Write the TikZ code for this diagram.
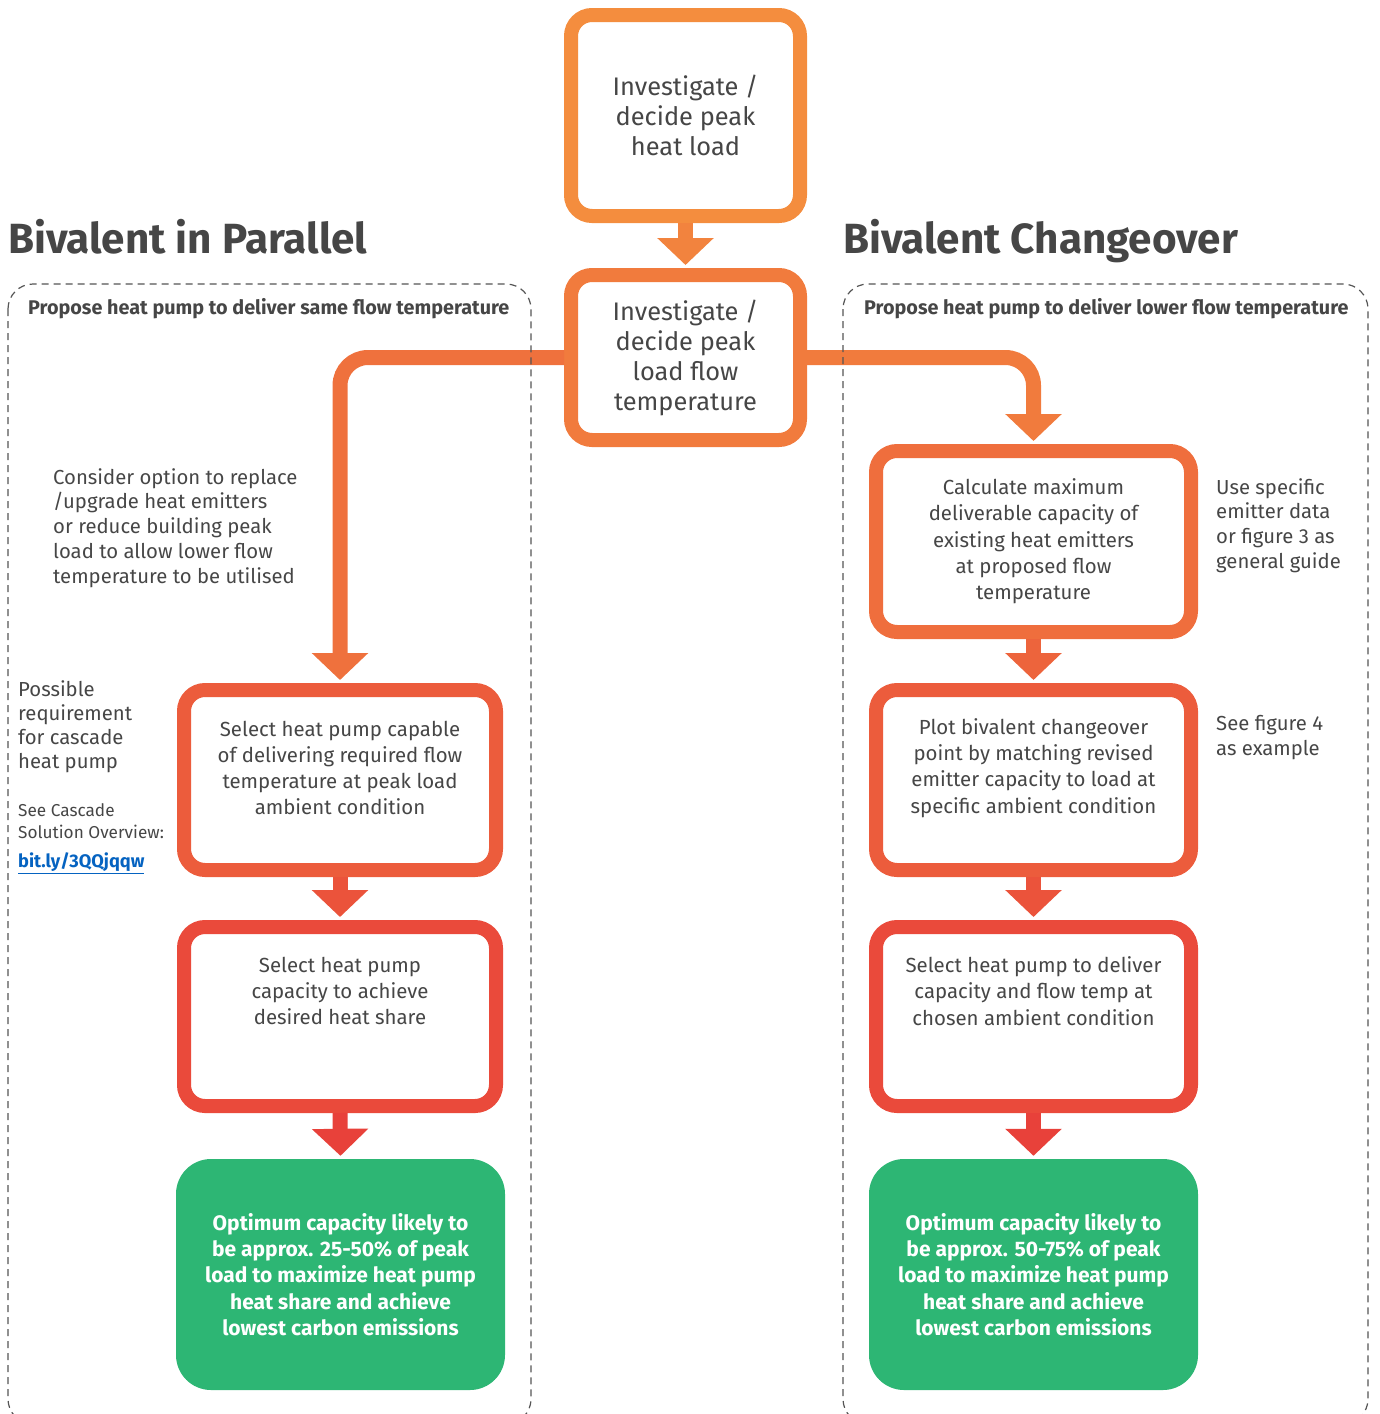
\documentclass[tikz,border=0pt]{standalone}
\usepackage{fontspec}
\setmainfont{Fira Sans}
\usetikzlibrary{arrows.meta}
\definecolor{txt}{HTML}{464646}
\definecolor{frame}{HTML}{555555}
\definecolor{green}{HTML}{2DB674}
\definecolor{link}{HTML}{0563C1}
\definecolor{cA}{HTML}{F48D3E}
\definecolor{cB}{HTML}{F2833E}
\definecolor{cC}{HTML}{F17B3D}
\definecolor{cD}{HTML}{EF713D}
\definecolor{cE}{HTML}{EF6E3D}
\definecolor{cF}{HTML}{ED643C}
\definecolor{cG}{HTML}{EC5C3C}
\definecolor{cH}{HTML}{EB533B}
\definecolor{cI}{HTML}{EA4A3B}
\definecolor{cJ}{HTML}{E8413A}
\tikzset{
  box/.style={draw=#1, line width=14pt, rounded corners=21pt, fill=white, inner sep=0pt},
  bigtext/.style={text=txt, align=center, font=\fontsize{25.4}{30}\selectfont},
  boxtext/.style={text=txt, align=center, inner sep=0pt, font=\fontsize{20.4}{26.3}\selectfont},
  sidetext/.style={text=txt, align=left, inner sep=0pt, anchor=west, font=\fontsize{20.3}{24.8}\selectfont},
  greenbox/.style={fill=green, rounded corners=35pt, inner sep=0pt, minimum width=329pt, minimum height=231pt,
    text=white, align=center, font=\bfseries\fontsize{21}{26.3}\selectfont},
  title/.style={text=txt, anchor=base west, inner sep=0pt, font=\bfseries\fontsize{42.2}{50}\selectfont},
  subhead/.style={text=txt, anchor=base west, inner sep=0pt, font=\bfseries\fontsize{19.8}{22}\selectfont},
  flow/.style={draw=#1, line width=15pt, -{Triangle[length=27pt,width=55pt,fill=#1]}, shorten >=3pt},
  dframe/.style={draw=frame, line width=1.2pt, dash pattern=on 7pt off 5pt, rounded corners=25pt}
}
\begin{document}
\begin{tikzpicture}[x=1pt,y=-1pt]
\useasboundingbox (0,0) rectangle (1380,1414);

% titles
\node[title] (tl) at (8,253) {Bivalent in Parallel};
\node[title] (tr) at (843,253) {Bivalent Changeover};

% central boxes
\node[box=cA, minimum width=229pt, minimum height=201pt, bigtext] (b1) at (685.5,115.5)
  {Investigate /\\decide peak\\heat load};
\node[box=cC, minimum width=229pt, minimum height=165pt, bigtext] (b2) at (685.5,357.5)
  {Investigate /\\decide peak\\load flow\\temperature};

% left column
\node[box=cG, minimum width=312pt, minimum height=180pt] (b3) at (340,780) {};
\node[boxtext] (t3) at (340,768)
  {Select heat pump capable\\of delivering required flow\\temperature at peak load\\ambient condition};
\node[box=cI, minimum width=312pt, minimum height=179pt] (b4) at (340,1016.5) {};
\node[boxtext] (t4) at (340,991)
  {Select heat pump\\capacity to achieve\\desired heat share};
\node[greenbox] (g1) at (340.5,1274.5)
  {Optimum capacity likely to\\be approx. 25-50\% of peak\\load to maximize heat pump\\heat share and achieve\\lowest carbon emissions};

% right column
\node[box=cE, minimum width=315pt, minimum height=181pt, boxtext] (r1) at (1033.5,541.5)
  {Calculate maximum\\deliverable capacity of\\existing heat emitters\\at proposed flow\\temperature};
\node[box=cG, minimum width=315pt, minimum height=180pt] (r2) at (1033.5,780) {};
\node[boxtext] (t5) at (1033.5,768)
  {Plot bivalent changeover\\point by matching revised\\emitter capacity to load at\\specific ambient condition};
\node[box=cI, minimum width=315pt, minimum height=179pt] (r3) at (1033.5,1016.5) {};
\node[boxtext] (t6) at (1033.5,991)
  {Select heat pump to deliver\\capacity and flow temp at\\chosen ambient condition};
\node[greenbox] (g2) at (1033.5,1274.5)
  {Optimum capacity likely to\\be approx. 50-75\% of peak\\load to maximize heat pump\\heat share and achieve\\lowest carbon emissions};

% connectors
\draw[flow=cB] (b1.south) -- (b2.north);
\draw[flow=cD, rounded corners=28pt] (b2.west) -| (b3.north);
\draw[flow=cC, rounded corners=28pt] (b2.east) -| (r1.north);
\draw[flow=cH] (b3.south) -- (b4.north);
\draw[flow=cJ] (b4.south) -- (g1.north);
\draw[flow=cF] (r1.south) -- (r2.north);
\draw[flow=cH] (r2.south) -- (r3.north);
\draw[flow=cJ] (r3.south) -- (g2.north);

% dashed frames
\draw[dframe] (8,284) rectangle (531,1424);
\draw[dframe] (843,284) rectangle (1368,1424);

% sub headings
\node[subhead] (sl) at (28,314) {Propose heat pump to deliver same flow temperature};
\node[subhead] (sr) at (864,314) {Propose heat pump to deliver lower flow temperature};

% side notes
\node[sidetext] (n1) at (53,528)
  {Consider option to replace\\/upgrade heat emitters\\or reduce building peak\\load to allow lower flow\\temperature to be utilised};
\node[sidetext, font=\fontsize{20.3}{24}\selectfont] (n2) at (18,727)
  {Possible\\requirement\\for cascade\\heat pump};
\node[sidetext, font=\fontsize{17.2}{22}\selectfont] (n3) at (18,821)
  {See Cascade\\Solution Overview:};
\node[sidetext, text=link, font=\bfseries\fontsize{18.2}{20}\selectfont] (n4) at (18,863)
  {\underline{bit.ly/3QQjqqw}};
\node[sidetext] (n5) at (1216,525.5)
  {Use specific\\emitter data\\or figure 3 as\\general guide};
\node[sidetext] (n6) at (1216,737.5)
  {See figure 4\\as example};
\end{tikzpicture}
\end{document}
